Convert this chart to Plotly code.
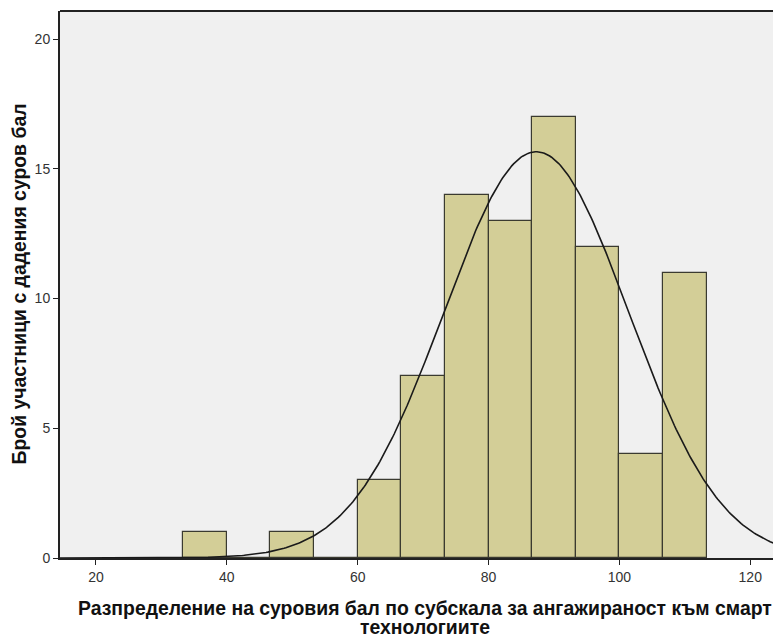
import numpy as np
import plotly.graph_objects as go

# Histogram data (bin edges and counts)
bin_width = 20 / 3
bin_starts = [33.33, 40.0, 46.67, 53.33, 60.0, 66.67, 73.33, 80.0, 86.67, 93.33, 100.0, 106.67]
counts = [1, 0, 1, 0, 3, 7, 14, 13, 17, 12, 4, 11]

# Fitted normal curve parameters (as drawn by SPSS)
curve_mean = 87.3
curve_sd = 14.1
n_total = sum(counts)

x_ticks = [20, 40, 60, 80, 100, 120]
y_ticks = [0, 5, 10, 15, 20]

x_title_lines = ["Разпределение на суровия бал по субскала за ангажираност към смарт", "технологиите"]
y_title = "Брой участници с дадения суров бал"

centers = [s + bin_width / 2 for s in bin_starts]

x_min, x_max = 14.5, 124.7
xc = np.linspace(x_min, x_max, 400)
yc = n_total * bin_width / (curve_sd * np.sqrt(2 * np.pi)) * np.exp(-0.5 * ((xc - curve_mean) / curve_sd) ** 2)

fig = go.Figure()
fig.add_trace(go.Bar(
    x=centers, y=counts, width=bin_width,
    marker=dict(color="#D3CE97", line=dict(color="#3a3a30", width=1.2)),
    showlegend=False, hoverinfo="skip",
))
fig.add_trace(go.Scatter(
    x=xc, y=yc, mode="lines",
    line=dict(color="#1a1a1a", width=1.6),
    showlegend=False, hoverinfo="skip", cliponaxis=True,
))

# page has an 8px body margin: figure occupies (8,8)-(781,635)
fig.update_layout(
    width=773, height=627,
    margin=dict(l=52, r=0, t=3, b=77, autoexpand=False),
    paper_bgcolor="white",
    plot_bgcolor="#F0F0F0",
    bargap=0,
    font=dict(family="Liberation Sans, Arial", color="#333333", size=14),
)
fig.update_xaxes(
    range=[x_min, x_max], tickvals=x_ticks, ticktext=[str(v) for v in x_ticks],
    showgrid=False, zeroline=False, automargin=False,
    showline=True, linecolor="#222222", linewidth=2,
    ticks="outside", ticklen=5, tickwidth=1, tickcolor="#222222",
    tickfont=dict(size=14, color="#333333"),
)
fig.update_yaxes(
    range=[0, 21.08], tickvals=y_ticks, ticktext=[str(v) for v in y_ticks],
    showgrid=False, zeroline=False, automargin=False,
    showline=True, linecolor="#222222", linewidth=2,
    ticks="outside", ticklen=5, tickwidth=1, tickcolor="#222222",
    tickfont=dict(size=14, color="#333333"),
)

title_font = dict(family="Liberation Sans, Arial", size=19.4, color="#111111")
fig.add_annotation(xref="paper", yref="paper", x=0.5, y=0, xanchor="center", yanchor="middle",
                   xshift=4, yshift=-50, showarrow=False,
                   text="<b>" + x_title_lines[0] + "</b>", font=title_font)
fig.add_annotation(xref="paper", yref="paper", x=0.5, y=0, xanchor="center", yanchor="middle",
                   xshift=4, yshift=-69, showarrow=False,
                   text="<b>" + x_title_lines[1] + "</b>", font=title_font)
fig.add_annotation(xref="paper", yref="paper", x=0, y=0.5, xanchor="center", yanchor="middle",
                   xshift=-42, showarrow=False, textangle=-90,
                   text="<b>" + y_title + "</b>", font=title_font)

# top border of the plot frame
fig.add_shape(type="line", xref="paper", yref="paper", x0=0, x1=1, y0=1, y1=1,
              line=dict(color="#222222", width=2))

fig.write_html("out.html")
